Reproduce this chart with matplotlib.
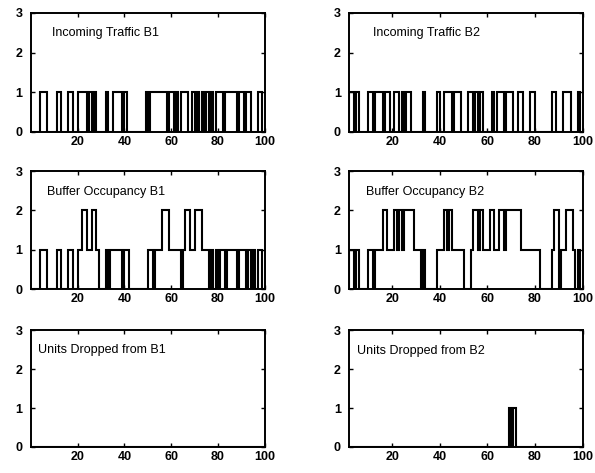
import numpy as np
import matplotlib
matplotlib.use("Agg")
import matplotlib.pyplot as plt

# ---- data (value for each unit time slot 0..99) ----
traffic_b1 = [0,0,0,0,1,1,1,0,0,0,
              0,1,1,0,0,0,1,1,0,0,
              1,1,1,1,0,1,0,1,0,0,
              0,0,1,0,0,1,1,1,1,0,
              1,0,0,0,0,0,0,0,0,1,
              0,1,1,1,1,1,1,1,0,1,
              1,0,1,0,1,1,1,0,0,1,
              0,1,0,1,0,1,0,1,0,1,
              1,1,0,1,1,1,1,1,0,1,
              1,0,1,1,0,0,0,1,1,0]

traffic_b2 = [0,0,1,1,0,1,0,0,0,0,
              1,1,0,1,1,1,0,1,1,0,
              0,1,1,0,1,0,1,1,0,0,
              0,0,0,1,0,0,0,0,0,1,
              0,0,1,1,1,0,1,1,1,0,
              0,0,1,1,0,1,0,1,0,0,
              0,0,1,0,1,1,1,0,1,1,
              1,0,0,1,1,0,0,0,1,1,
              0,0,0,0,0,0,0,1,1,0,
              0,0,1,1,1,0,0,0,1,0]

buffer_b1 = [0,0,0,0,1,1,1,0,0,0,
             0,1,1,0,0,0,1,1,0,0,
             1,1,2,2,1,1,2,2,1,0,
             0,0,1,0,1,1,1,1,1,0,
             1,1,0,0,0,0,0,0,0,0,
             1,1,0,1,1,1,2,2,2,1,
             1,1,1,1,0,1,2,2,1,1,
             2,2,2,1,1,1,0,1,0,1,
             0,1,1,0,1,1,1,1,0,1,
             1,1,0,1,0,1,0,1,1,0]

buffer_b2 = [0,0,1,1,0,1,0,0,0,0,
             1,1,0,1,1,1,2,2,1,1,
             1,2,1,2,1,2,2,2,2,1,
             1,1,0,1,0,0,0,0,0,1,
             1,1,2,1,2,1,1,1,1,1,
             0,0,0,1,2,2,1,2,1,1,
             1,2,2,1,1,2,2,1,2,2,
             2,2,2,2,1,1,1,1,1,1,
             1,1,0,0,0,0,0,1,2,2,
             0,1,1,2,2,2,1,0,1,0]

dropped_b1 = [0] * 100

dropped_b2 = [0,0,0,0,0,0,0,0,0,0,
              0,0,0,0,0,0,0,0,0,0,
              0,0,0,0,0,0,0,0,0,0,
              0,0,0,0,0,0,0,0,0,0,
              0,0,0,0,0,0,0,0,0,0,
              0,0,0,0,0,0,0,0,0,0,
              0,0,0,0,0,0,0,0,0,1,
              0,1,0,0,0,0,0,0,0,0,
              0,0,0,0,0,0,0,0,0,0,
              0,0,0,0,0,0,0,0,0,0]

titles = ["Incoming Traffic B1", "Incoming Traffic B2",
          "Buffer Occupancy B1", "Buffer Occupancy B2",
          "Units Dropped from B1", "Units Dropped from B2"]
series = [traffic_b1, traffic_b2, buffer_b1, buffer_b2, dropped_b1, dropped_b2]
x_ticks = [20, 40, 60, 80, 100]
y_ticks = [0, 1, 2, 3]

plt.rcParams['font.family'] = ['Liberation Sans', 'DejaVu Sans']

fig = plt.figure(figsize=(5.95, 4.73), dpi=100)

col_left = [0.052, 0.587]
col_width = [0.393, 0.392]
row_bottom = [0.721, 0.389, 0.055]
row_height = [0.252, 0.249, 0.247]
title_pos = [(0.09, 0.83), (0.10, 0.83), (0.07, 0.82), (0.07, 0.82), (0.03, 0.83), (0.035, 0.82)]
xlims = [(0, 100), (2, 100)]

edges = np.arange(0, 101)
for i, (vals, title) in enumerate(zip(series, titles)):
    r, c = divmod(i, 2)
    ax = fig.add_axes([col_left[c], row_bottom[r], col_width[c], row_height[r]])
    ax.stairs(vals, edges, color='black', linewidth=1.5, baseline=None)
    ax.set_xlim(*xlims[c])
    ax.set_ylim(0, 3)
    ax.set_xticks(x_ticks)
    ax.set_yticks(y_ticks)
    ax.tick_params(direction='in', length=3, width=1, top=True, right=True,
                   labelsize=9, pad=3)
    ax.tick_params(axis='y', pad=6)
    for lab in ax.get_xticklabels() + ax.get_yticklabels():
        lab.set_fontweight('bold')
    for sp in ax.spines.values():
        sp.set_linewidth(1.4)
    ax.text(title_pos[i][0], title_pos[i][1], title, transform=ax.transAxes,
            fontsize=9, va='center', ha='left')

fig.savefig("out.png", dpi=100)
